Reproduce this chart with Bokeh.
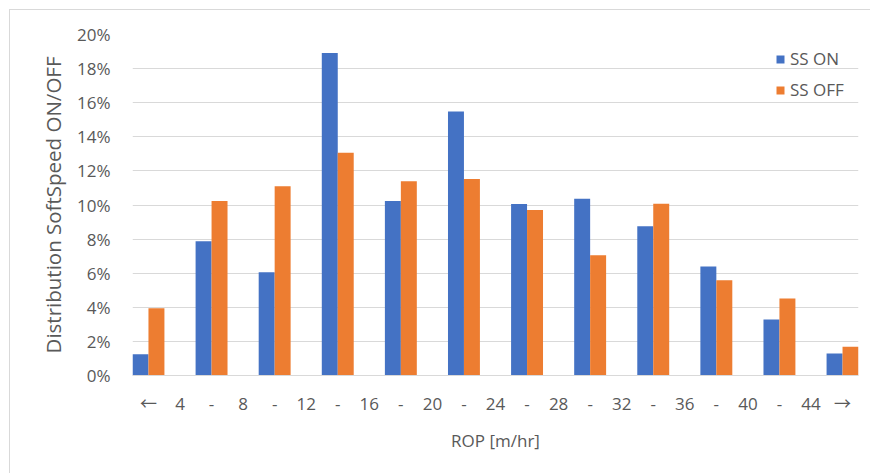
from bokeh.plotting import figure
from bokeh.models import ColumnDataSource, FixedTicker, NumeralTickFormatter, Range1d, Legend, LegendItem
from bokeh.transform import dodge
from bokeh.embed import file_html
from bokeh.resources import INLINE

# ---- data ----
bins = ["<4", "4-8", "8-12", "12-16", "16-20", "20-24", "24-28",
        "28-32", "32-36", "36-40", "40-44", ">44"]
ss_on = [0.0124, 0.0788, 0.0605, 0.1892, 0.1024, 0.1549, 0.1006,
         0.1036, 0.0875, 0.0639, 0.0329, 0.0129]
ss_off = [0.0394, 0.1023, 0.1110, 0.1306, 0.1139, 0.1153, 0.0970,
          0.0706, 0.1008, 0.0559, 0.0451, 0.0169]
# axis labels as drawn: arrows/dashes under the groups, bin edges between them
tick_text = ["\u2190", "4", "-", "8", "-", "12", "-", "16", "-", "20", "-", "24",
             "-", "28", "-", "32", "-", "36", "-", "40", "-", "44", "\u2192"]
y_ticks = [0, 0.02, 0.04, 0.06, 0.08, 0.10, 0.12, 0.14, 0.16, 0.18, 0.20]

BLUE = "#4472C4"
ORANGE = "#ED7D31"
GRID = "#D9D9D9"
TXT = "#595959"
FONT = "Open Sans"
XFONT = "Open Sans, Noto Sans CJK JP"

idx = list(range(len(bins)))
src = ColumnDataSource(dict(x=idx, on=ss_on, off=ss_off, bin=bins))

p = figure(width=861, height=464, output_backend="svg", toolbar_location=None,
           x_range=Range1d(-0.253, len(bins) - 1 + 0.253),
           y_range=Range1d(0, 0.20),
           min_border_left=122, min_border_right=13, min_border_top=24, min_border_bottom=99,
           styles={"margin-left": "9px", "margin-top": "9px",
                   "border-left": "1px solid #d9d9d9", "border-top": "1px solid #d9d9d9"})
p.outline_line_color = None
p.background_fill_color = "white"
p.border_fill_color = "white"

bw = 0.253
r_on = p.vbar(x=dodge("x", -bw / 2, range=p.x_range), top="on", width=bw, source=src,
              fill_color=BLUE, line_color=None)
r_off = p.vbar(x=dodge("x", bw / 2, range=p.x_range), top="off", width=bw, source=src,
               fill_color=ORANGE, line_color=None)

# x axis
tick_pos = [i * 0.5 for i in range(len(tick_text))]
p.xaxis.ticker = FixedTicker(ticks=tick_pos)
p.xaxis.major_label_overrides = {pos: t for pos, t in zip(tick_pos, tick_text)}
p.xaxis.axis_line_color = GRID
p.xaxis.axis_line_width = 1
p.xaxis.major_tick_line_color = None
p.xaxis.minor_tick_line_color = None
p.xaxis.major_label_standoff = 10
p.xaxis.major_label_text_font = XFONT
p.xaxis.major_label_text_font_size = "17px"
p.xaxis.major_label_text_color = TXT
p.xaxis.axis_label = "ROP [m/hr]"
p.xaxis.axis_label_text_font = FONT
p.xaxis.axis_label_text_font_size = "17px"
p.xaxis.axis_label_text_font_style = "normal"
p.xaxis.axis_label_text_color = TXT
p.xaxis.axis_label_standoff = 11
p.xgrid.grid_line_color = None

# y axis
p.yaxis.ticker = FixedTicker(ticks=y_ticks)
p.yaxis.formatter = NumeralTickFormatter(format="0%")
p.yaxis.axis_line_color = None
p.yaxis.major_tick_line_color = None
p.yaxis.minor_tick_line_color = None
p.yaxis.major_label_standoff = 16
p.yaxis.major_label_text_font = FONT
p.yaxis.major_label_text_font_size = "17px"
p.yaxis.major_label_text_color = TXT
p.yaxis.axis_label = "Distribution SoftSpeed ON/OFF"
p.yaxis.axis_label_text_font = FONT
p.yaxis.axis_label_text_font_size = "20.5px"
p.yaxis.axis_label_text_font_style = "normal"
p.yaxis.axis_label_text_color = TXT
p.yaxis.axis_label_standoff = 7
p.ygrid.grid_line_color = GRID
p.ygrid.grid_line_width = 1

legend = Legend(items=[LegendItem(label="SS ON", renderers=[r_on]),
                       LegendItem(label="SS OFF", renderers=[r_off])],
                location=(643, 274), orientation="vertical",
                glyph_width=10, glyph_height=10, label_standoff=5,
                label_text_font=FONT, label_text_font_size="17px",
                label_text_color=TXT, label_height=20, spacing=8,
                padding=0, margin=0, border_line_color=None,
                background_fill_alpha=0)
p.add_layout(legend)

open("out.html", "w").write(file_html(p, INLINE))
